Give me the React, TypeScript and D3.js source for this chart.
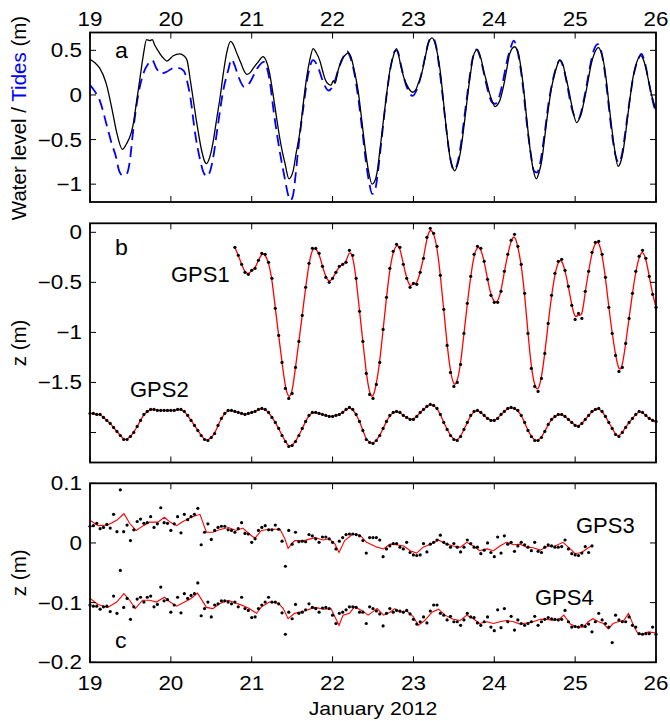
import React from 'react';
import * as d3 from 'd3';

// ---------- DATA ----------
const dayTicks = [19, 20, 21, 22, 23, 24, 25, 26];
const ticksA = [-1, -0.5, 0, 0.5];
const ticksB = [-2, -1.5, -1, -0.5, 0];
const labelsB = [-1.5, -1, -0.5, 0];
const ticksC = [-0.2, -0.1, 0, 0.1];

// Panel a: measured water level [day, m]
const waterLevel: [number, number][] = [
  [19.00,0.40],[19.06,0.36],[19.12,0.30],[19.20,0.13],[19.27,-0.15],[19.33,-0.42],[19.40,-0.61],[19.45,-0.55],[19.53,-0.35],[19.58,-0.05],
  [19.62,0.20],[19.66,0.45],[19.70,0.62],[19.74,0.61],[19.77,0.62],[19.80,0.56],[19.86,0.47],[19.91,0.41],[19.95,0.38],[20.03,0.44],
  [20.11,0.46],[20.16,0.44],[20.20,0.39],[20.24,0.17],[20.32,-0.31],[20.38,-0.62],[20.42,-0.75],[20.44,-0.77],[20.48,-0.70],[20.52,-0.54],
  [20.57,-0.25],[20.61,-0.02],[20.65,0.25],[20.69,0.47],[20.74,0.60],[20.77,0.57],[20.81,0.48],[20.87,0.35],[20.90,0.28],[20.94,0.23],
  [20.98,0.25],[21.02,0.30],[21.08,0.37],[21.14,0.43],[21.18,0.38],[21.22,0.25],[21.25,0.09],[21.29,-0.15],[21.33,-0.39],[21.37,-0.60],
  [21.41,-0.76],[21.46,-0.94],[21.51,-0.86],[21.55,-0.65],[21.60,-0.39],[21.64,-0.08],[21.68,0.20],[21.72,0.40],[21.76,0.52],[21.80,0.47],
  [21.84,0.39],[21.88,0.26],[21.91,0.17],[21.95,0.12],[21.98,0.11],[22.01,0.16],[22.03,0.13],[22.07,0.28],[22.11,0.39],[22.16,0.45],
  [22.19,0.47],[22.23,0.42],[22.26,0.31],[22.29,0.18],[22.32,0.02],[22.35,-0.20],[22.38,-0.43],[22.41,-0.65],[22.44,-0.83],[22.49,-1.00],
  [22.52,-0.97],[22.55,-0.87],[22.58,-0.66],[22.61,-0.43],[22.64,-0.20],[22.67,0.02],[22.71,0.28],[22.75,0.43],[22.79,0.52],[22.82,0.43],
  [22.85,0.30],[22.88,0.20],[22.92,0.11],[22.96,0.05],[22.99,0.03],[23.03,0.06],[23.06,0.13],[23.09,0.20],[23.12,0.31],[23.15,0.44],
  [23.18,0.57],[23.23,0.64],[23.27,0.57],[23.30,0.45],[23.33,0.28],[23.36,0.03],[23.39,-0.24],[23.42,-0.48],[23.45,-0.69],[23.48,-0.80],
  [23.51,-0.85],[23.55,-0.77],[23.58,-0.65],[23.61,-0.46],[23.64,-0.24],[23.67,-0.01],[23.70,0.20],[23.74,0.43],[23.79,0.51],[23.84,0.39],
  [23.87,0.27],[23.91,0.13],[23.94,0.02],[23.97,-0.06],[24.01,-0.13],[24.04,-0.11],[24.07,-0.06],[24.10,0.04],[24.13,0.17],[24.16,0.32],
  [24.19,0.46],[24.25,0.54],[24.30,0.46],[24.33,0.30],[24.36,0.09],[24.39,-0.17],[24.42,-0.43],[24.45,-0.66],[24.48,-0.83],[24.52,-0.94],
  [24.55,-0.88],[24.59,-0.72],[24.62,-0.50],[24.65,-0.28],[24.68,-0.08],[24.71,0.09],[24.74,0.21],[24.77,0.31],[24.81,0.39],[24.85,0.34],
  [24.88,0.22],[24.92,0.06],[24.95,-0.08],[24.97,-0.17],[25.02,-0.31],[25.05,-0.27],[25.08,-0.20],[25.11,-0.07],[25.14,0.06],[25.17,0.21],
  [25.20,0.35],[25.24,0.47],[25.29,0.53],[25.32,0.48],[25.36,0.33],[25.39,0.13],[25.42,-0.12],[25.45,-0.35],[25.49,-0.62],[25.53,-0.80],
  [25.56,-0.76],[25.59,-0.65],[25.62,-0.46],[25.65,-0.24],[25.68,-0.03],[25.71,0.17],[25.75,0.33],[25.81,0.44],[25.85,0.38],[25.88,0.28],
  [25.91,0.15],[25.94,0.02],[25.97,-0.08],[26.00,-0.17],
];

// Panel a: predicted tides [day, m]
const tides: [number, number][] = [
  [19.00,0.11],[19.06,0.04],[19.12,-0.06],[19.21,-0.35],[19.27,-0.55],[19.32,-0.69],[19.36,-0.85],[19.40,-0.90],[19.45,-0.89],[19.49,-0.76],
  [19.53,-0.43],[19.57,-0.15],[19.60,0.02],[19.66,0.24],[19.72,0.35],[19.77,0.39],[19.82,0.30],[19.88,0.24],[19.95,0.26],[20.03,0.30],
  [20.10,0.30],[20.16,0.27],[20.21,0.12],[20.24,-0.02],[20.30,-0.43],[20.36,-0.72],[20.41,-0.88],[20.45,-0.91],[20.49,-0.84],[20.52,-0.72],
  [20.58,-0.35],[20.65,0.06],[20.71,0.28],[20.75,0.40],[20.79,0.33],[20.83,0.22],[20.91,0.09],[20.97,0.13],[21.07,0.30],[21.15,0.37],
  [21.19,0.30],[21.22,0.17],[21.28,-0.24],[21.35,-0.65],[21.41,-0.94],[21.45,-1.12],[21.48,-1.18],[21.51,-1.13],[21.54,-0.92],[21.57,-0.65],
  [21.64,-0.13],[21.70,0.24],[21.76,0.39],[21.82,0.31],[21.89,0.13],[21.95,0.05],[22.01,0.11],[22.07,0.28],[22.13,0.42],[22.18,0.49],
  [22.22,0.42],[22.27,0.24],[22.32,-0.05],[22.37,-0.42],[22.41,-0.73],[22.45,-0.97],[22.49,-1.11],[22.53,-1.05],[22.56,-0.87],[22.60,-0.55],
  [22.64,-0.22],[22.68,0.08],[22.72,0.32],[22.77,0.49],[22.80,0.50],[22.84,0.36],[22.88,0.20],[22.93,0.06],[22.99,-0.01],[23.05,0.08],
  [23.10,0.24],[23.15,0.45],[23.20,0.62],[23.24,0.64],[23.28,0.55],[23.32,0.30],[23.36,0.00],[23.40,-0.33],[23.45,-0.68],[23.50,-0.84],
  [23.54,-0.78],[23.58,-0.60],[23.63,-0.25],[23.68,0.10],[23.73,0.40],[23.78,0.51],[23.82,0.44],[23.87,0.25],[23.92,0.05],[23.97,-0.08],
  [24.01,-0.10],[24.05,-0.05],[24.10,0.12],[24.15,0.35],[24.20,0.52],[24.24,0.61],[24.28,0.52],[24.32,0.33],[24.36,0.05],[24.40,-0.30],
  [24.45,-0.65],[24.49,-0.85],[24.53,-0.87],[24.57,-0.75],[24.62,-0.45],[24.67,-0.10],[24.72,0.15],[24.77,0.32],[24.81,0.39],[24.85,0.32],
  [24.90,0.12],[24.95,-0.12],[25.00,-0.25],[25.04,-0.27],[25.08,-0.17],[25.13,0.05],[25.18,0.30],[25.23,0.50],[25.28,0.57],[25.32,0.50],
  [25.36,0.30],[25.40,0.00],[25.45,-0.40],[25.50,-0.68],[25.54,-0.76],[25.58,-0.66],[25.63,-0.35],[25.68,-0.02],[25.73,0.25],[25.78,0.40],
  [25.82,0.46],[25.86,0.37],[25.91,0.15],[25.96,-0.07],[26.00,-0.20],
];

// Panel b: hourly GPS heights (m)
const gps1Start = 20 + 19 / 24;
const gps1: number[] = [
  -0.15,-0.23,-0.32,-0.40,-0.42,-0.38,-0.36,-0.28,-0.21,-0.22,
  -0.30,-0.46,-0.76,-1.03,-1.30,-1.56,-1.66,-1.61,-1.35,-1.09,
  -0.83,-0.55,-0.31,-0.16,-0.16,-0.21,-0.34,-0.45,-0.50,-0.46,
  -0.40,-0.34,-0.32,-0.30,-0.18,-0.23,-0.46,-0.79,-1.09,-1.41,
  -1.62,-1.66,-1.52,-1.30,-0.97,-0.65,-0.36,-0.19,-0.12,-0.15,
  -0.32,-0.46,-0.55,-0.51,-0.52,-0.40,-0.26,-0.05,0.04,-0.01,
  -0.14,-0.43,-0.77,-1.13,-1.40,-1.54,-1.50,-1.32,-1.01,-0.71,
  -0.44,-0.22,-0.14,-0.16,-0.29,-0.47,-0.63,-0.70,-0.70,-0.59,
  -0.39,-0.22,-0.08,-0.02,-0.14,-0.32,-0.61,-1.01,-1.36,-1.54,
  -1.59,-1.46,-1.21,-0.91,-0.63,-0.41,-0.29,-0.27,-0.38,-0.54,
  -0.73,-0.87,-0.81,-0.86,-0.59,-0.39,-0.20,-0.10,-0.09,-0.22,
  -0.45,-0.75,-1.01,-1.23,-1.39,-1.35,-1.11,-0.86,-0.61,-0.39,
  -0.24,-0.18,-0.26,-0.44,-0.62,-0.75,
];
const gps2Start = 19;
const gps2: number[] = [
  -1.81,-1.81,-1.82,-1.82,-1.85,-1.88,-1.91,-1.95,-1.99,-2.03,-2.07,-2.07,-2.04,-2.00,-1.94,-1.88,-1.82,-1.79,-1.77,-1.77,-1.78,-1.78,-1.78,-1.78,
  -1.78,-1.78,-1.77,-1.77,-1.79,-1.83,-1.88,-1.93,-1.98,-2.03,-2.07,-2.08,-2.05,-2.01,-1.93,-1.86,-1.81,-1.78,-1.78,-1.79,-1.80,-1.81,-1.82,-1.81,
  -1.80,-1.79,-1.77,-1.76,-1.77,-1.80,-1.85,-1.90,-1.96,-2.03,-2.09,-2.14,-2.13,-2.09,-2.03,-1.96,-1.89,-1.83,-1.80,-1.80,-1.81,-1.82,-1.83,-1.84,
  -1.84,-1.83,-1.82,-1.80,-1.77,-1.75,-1.77,-1.82,-1.89,-1.98,-2.07,-2.10,-2.11,-2.08,-2.03,-1.96,-1.89,-1.83,-1.80,-1.79,-1.80,-1.83,-1.85,-1.87,
  -1.87,-1.84,-1.80,-1.77,-1.74,-1.72,-1.73,-1.76,-1.82,-1.90,-1.97,-2.03,-2.07,-2.08,-2.04,-1.97,-1.90,-1.83,-1.79,-1.78,-1.80,-1.83,-1.86,-1.88,
  -1.88,-1.86,-1.82,-1.79,-1.76,-1.75,-1.76,-1.78,-1.83,-1.90,-1.98,-2.04,-2.08,-2.08,-2.05,-1.99,-1.92,-1.87,-1.84,-1.82,-1.82,-1.84,-1.87,-1.90,
  -1.93,-1.94,-1.91,-1.87,-1.83,-1.79,-1.77,-1.76,-1.79,-1.84,-1.90,-1.96,-2.02,-2.04,-2.00,-1.95,-1.90,-1.86,-1.82,-1.79,-1.80,-1.83,-1.86,-1.88,
  -1.89,
];

// Panel c: hourly GPS heights (m)
const gps3Start = 19;
const gps3: number[] = [
  0.028,0.029,0.033,0.024,0.026,0.031,0.025,0.048,0.019,0.089,
  0.019,0.030,0.004,0.022,0.036,0.040,0.033,0.034,0.044,0.026,
  0.032,0.059,0.034,0.033,0.021,0.032,0.044,0.017,0.048,0.039,
  0.044,0.048,0.058,-0.003,0.018,0.032,0.006,0.021,0.026,0.028,
  0.028,0.022,0.021,0.018,0.024,0.034,0.016,0.015,0.001,0.007,
  0.021,0.026,0.029,0.022,0.022,0.030,0.023,0.003,-0.039,0.021,
  -0.002,0.018,0.002,0.003,0.002,0.014,0.012,0.007,0.001,0.010,
  0.010,0.007,0.001,-0.010,0.003,0.009,0.014,0.015,0.015,0.014,
  0.012,0.004,-0.017,0.009,0.009,0.009,0.005,-0.023,-0.010,-0.005,
  -0.001,-0.001,-0.007,-0.010,0.001,-0.016,-0.020,-0.021,-0.020,-0.001,
  -0.015,-0.002,0.001,0.005,0.013,0.001,-0.002,-0.007,-0.001,-0.007,
  -0.015,-0.007,0.005,-0.001,-0.007,-0.007,-0.018,-0.012,0.000,-0.016,
  -0.023,0.010,-0.017,0.012,-0.002,0.001,-0.014,-0.005,0.001,-0.003,
  -0.007,-0.013,0.001,-0.014,-0.016,-0.007,-0.003,-0.005,-0.007,-0.007,
  -0.006,0.005,-0.010,-0.018,-0.020,-0.021,-0.017,-0.006,-0.016,-0.005,
];
const gps4Start = 19;
const gps4: number[] = [
  -0.104,-0.106,-0.106,-0.111,-0.107,-0.106,-0.115,-0.089,-0.118,-0.046,
  -0.108,-0.093,-0.128,-0.107,-0.094,-0.091,-0.099,-0.091,-0.089,-0.107,
  -0.103,-0.074,-0.097,-0.095,-0.116,-0.104,-0.091,-0.117,-0.085,-0.093,
  -0.088,-0.085,-0.067,-0.122,-0.110,-0.099,-0.124,-0.104,-0.102,-0.097,
  -0.097,-0.099,-0.102,-0.099,-0.107,-0.091,-0.110,-0.113,-0.125,-0.124,
  -0.110,-0.104,-0.099,-0.091,-0.099,-0.099,-0.102,-0.117,-0.153,-0.116,
  -0.127,-0.103,-0.118,-0.116,-0.112,-0.102,-0.108,-0.110,-0.116,-0.109,
  -0.108,-0.110,-0.121,-0.135,-0.118,-0.116,-0.112,-0.107,-0.107,-0.108,
  -0.116,-0.116,-0.135,-0.107,-0.110,-0.114,-0.119,-0.139,-0.118,-0.110,
  -0.116,-0.113,-0.114,-0.116,-0.113,-0.119,-0.128,-0.136,-0.132,-0.124,
  -0.134,-0.114,-0.104,-0.104,-0.118,-0.121,-0.129,-0.123,-0.132,-0.132,
  -0.138,-0.129,-0.118,-0.124,-0.125,-0.134,-0.138,-0.132,-0.124,-0.141,
  -0.147,-0.112,-0.142,-0.110,-0.132,-0.123,-0.146,-0.129,-0.135,-0.138,
  -0.135,-0.132,-0.123,-0.138,-0.132,-0.128,-0.125,-0.127,-0.128,-0.129,
  -0.128,-0.113,-0.132,-0.141,-0.140,-0.141,-0.138,-0.140,-0.136,-0.149,
  -0.132,-0.118,-0.129,-0.135,-0.141,-0.167,-0.121,-0.129,-0.132,-0.132,
  -0.124,-0.138,-0.141,-0.152,-0.153,-0.152,-0.152,-0.141,-0.153,
];

// Panel c: smoothed curves [day, m]
const gps3Smooth: [number, number][] = [
  [19.00,0.038],[19.10,0.029],[19.22,0.030],[19.33,0.038],[19.42,0.049],[19.49,0.033],[19.57,0.021],[19.66,0.029],[19.74,0.035],[19.84,0.035],
  [19.92,0.043],[19.99,0.035],[20.07,0.029],[20.15,0.036],[20.25,0.043],[20.36,0.048],[20.44,0.018],[20.52,0.018],[20.60,0.022],[20.71,0.026],
  [20.81,0.021],[20.89,0.025],[20.97,0.015],[21.04,0.008],[21.12,0.021],[21.22,0.023],[21.35,0.023],[21.41,0.007],[21.45,-0.009],[21.53,0.004],
  [21.65,0.004],[21.78,0.009],[21.88,0.005],[21.96,0.007],[22.03,-0.002],[22.08,-0.016],[22.15,0.004],[22.25,0.015],[22.34,0.013],[22.42,0.001],
  [22.55,-0.007],[22.63,-0.010],[22.71,-0.002],[22.79,-0.003],[22.88,-0.005],[22.96,-0.013],[23.04,-0.017],[23.12,-0.007],[23.21,-0.002],[23.31,0.005],
  [23.39,-0.001],[23.49,-0.005],[23.58,-0.007],[23.66,0.001],[23.74,-0.005],[23.82,-0.013],[23.91,-0.010],[23.99,-0.013],[24.07,-0.005],[24.15,0.001],
  [24.24,-0.003],[24.32,-0.002],[24.40,-0.007],[24.48,-0.008],[24.57,-0.012],[24.65,-0.006],[24.75,-0.005],[24.85,0.001],[24.94,-0.010],[25.00,-0.018],
  [25.08,-0.016],[25.14,-0.010],[25.20,-0.005],
];
const gps4Smooth: [number, number][] = [
  [19.00,-0.093],[19.10,-0.103],[19.22,-0.108],[19.33,-0.099],[19.42,-0.085],[19.49,-0.096],[19.56,-0.110],[19.65,-0.096],[19.74,-0.096],[19.82,-0.099],
  [19.92,-0.091],[19.99,-0.099],[20.07,-0.106],[20.17,-0.099],[20.25,-0.093],[20.33,-0.084],[20.44,-0.108],[20.52,-0.110],[20.60,-0.102],[20.71,-0.096],
  [20.81,-0.101],[20.89,-0.105],[20.97,-0.110],[21.06,-0.118],[21.12,-0.107],[21.22,-0.099],[21.33,-0.101],[21.39,-0.110],[21.45,-0.127],[21.53,-0.118],
  [21.65,-0.114],[21.78,-0.108],[21.90,-0.111],[21.98,-0.110],[22.03,-0.124],[22.08,-0.138],[22.13,-0.121],[22.21,-0.118],[22.27,-0.107],[22.36,-0.113],
  [22.44,-0.121],[22.52,-0.113],[22.55,-0.110],[22.63,-0.121],[22.71,-0.116],[22.77,-0.110],[22.83,-0.116],[22.92,-0.114],[23.00,-0.124],[23.06,-0.138],
  [23.14,-0.130],[23.23,-0.116],[23.31,-0.111],[23.39,-0.121],[23.49,-0.128],[23.58,-0.130],[23.66,-0.121],[23.74,-0.127],[23.82,-0.135],[23.91,-0.132],
  [23.99,-0.135],[24.07,-0.132],[24.15,-0.130],[24.24,-0.132],[24.32,-0.136],[24.40,-0.134],[24.48,-0.132],[24.57,-0.128],[24.65,-0.128],[24.73,-0.130],
  [24.81,-0.127],[24.86,-0.121],[24.94,-0.136],[25.02,-0.141],[25.10,-0.141],[25.16,-0.132],[25.22,-0.127],[25.29,-0.132],[25.35,-0.135],[25.41,-0.144],
  [25.47,-0.135],[25.53,-0.132],[25.60,-0.130],[25.66,-0.118],[25.72,-0.138],[25.78,-0.153],[25.84,-0.152],[25.91,-0.149],[26.00,-0.151],
];

// ---------- LAYOUT ----------
const W = 670, H = 721;
const XL = 90, XR = 656;
const FONT = '"Liberation Sans", Arial, Helvetica, sans-serif';
const SX = 1.15;
const TICK = 6;

const hourly = (start: number, vals: number[]): [number, number][] =>
  vals.map((v, i) => [start + i / 24, v]);

function HText(props: { x: number; y: number; anchor?: string; size?: number; sx?: number; fill?: string; children: any }) {
  const { x, y, anchor = 'start', size = 19.5, sx = SX, fill = '#000', children } = props;
  return (
    <text transform={`translate(${x},${y}) scale(${sx},1)`} textAnchor={anchor} fontSize={size}
      fontFamily={FONT} fill={fill}>{children}</text>
  );
}

function Frame(props: { x: d3.ScaleLinear<number, number>; y: d3.ScaleLinear<number, number>; yTicks: number[]; yLabels: number[]; top: number; bottom: number; topLabels?: boolean; bottomLabels?: boolean }) {
  const { x, y, yTicks, yLabels, top, bottom, topLabels, bottomLabels } = props;
  const fmt = d3.format('~g');
  return (
    <g>
      {dayTicks.map(d => (
        <g key={'xt' + d}>
          <line x1={x(d)} x2={x(d)} y1={bottom} y2={bottom - TICK} stroke="#000" strokeWidth={1} />
          <line x1={x(d)} x2={x(d)} y1={top} y2={top + TICK} stroke="#000" strokeWidth={1} />
          {topLabels && <HText x={x(d)} y={25.5} anchor="middle">{String(d)}</HText>}
          {bottomLabels && <HText x={x(d)} y={690} anchor="middle">{String(d)}</HText>}
        </g>
      ))}
      {yTicks.map(t => (
        <g key={'yt' + t}>
          <line x1={XL} x2={XL + TICK} y1={y(t)} y2={y(t)} stroke="#000" strokeWidth={1} />
          <line x1={XR} x2={XR - TICK} y1={y(t)} y2={y(t)} stroke="#000" strokeWidth={1} />
          {yLabels.includes(t) && (
            <HText x={82} y={y(t) + 7} anchor="end">{fmt(t)}</HText>
          )}
        </g>
      ))}
      <rect x={XL} y={top} width={XR - XL} height={bottom - top} fill="none" stroke="#000" strokeWidth={1.8} />
    </g>
  );
}

export default function App() {
  const x = d3.scaleLinear().domain([19, 26]).range([XL, XR]);
  const ya = d3.scaleLinear().domain([-1.2, 0.7]).range([202, 32.5]);
  const yb = d3.scaleLinear().domain([-2.3, 0.09]).range([462.5, 223.3]);
  const yc = d3.scaleLinear().domain([-0.2, 0.1]).range([662.3, 483.3]);

  const lineA = d3.line<[number, number]>().x(d => x(d[0])).y(d => ya(d[1])).curve(d3.curveMonotoneX);
  const lineB = d3.line<[number, number]>().x(d => x(d[0])).y(d => yb(d[1])).curve(d3.curveBasis);
  const lineC = d3.line<[number, number]>().x(d => x(d[0])).y(d => yc(d[1]));

  const g1 = hourly(gps1Start, gps1);
  const g2 = hourly(gps2Start, gps2);
  const g3 = hourly(gps3Start, gps3);
  const g4 = hourly(gps4Start, gps4);

  return (
    <svg width={W} height={H} viewBox={`0 0 ${W} ${H}`} style={{ position: 'absolute', left: 0, top: 0, background: '#fff' }}>
      <rect width={W} height={H} fill="#fff" />
      {/* Panel a */}
      <path d={lineA(tides) || ''} fill="none" stroke="#0000ff" strokeWidth={1.8} strokeDasharray="11,6" />
      <path d={lineA(waterLevel) || ''} fill="none" stroke="#000" strokeWidth={1.3} />
      <Frame x={x} y={ya} yTicks={ticksA} yLabels={ticksA} top={32.5} bottom={202} topLabels />
      <HText x={115} y={58} size={22} sx={1.05}>a</HText>
      <text transform="translate(26,118) rotate(-90)" textAnchor="middle" fontSize={20.5} fontFamily={FONT}>
        <tspan fill="#000">Water level / </tspan><tspan fill="#0000ff">Tides</tspan><tspan fill="#000"> (m)</tspan>
      </text>

      {/* Panel b */}
      <path d={lineB(g1) || ''} fill="none" stroke="#ff0000" strokeWidth={1.3} />
      <path d={lineB(g2) || ''} fill="none" stroke="#ff0000" strokeWidth={1.3} />
      {g1.concat(g2).map((d, i) => (
        <circle key={'b' + i} cx={x(d[0])} cy={yb(d[1])} r={1.6} fill="#000" />
      ))}
      <Frame x={x} y={yb} yTicks={ticksB} yLabels={labelsB} top={223.3} bottom={462.5} />
      <HText x={115} y={255} size={22} sx={1.05}>b</HText>
      <HText x={171} y={281.5} size={22} sx={1}>GPS1</HText>
      <HText x={130} y={396.5} size={22} sx={1}>GPS2</HText>
      <text transform={`translate(26,${(223.3 + 462.5) / 2}) rotate(-90)`} textAnchor="middle" fontSize={20.5} fontFamily={FONT}>z (m)</text>

      {/* Panel c */}
      <path d={lineC(gps3Smooth) || ''} fill="none" stroke="#ff0000" strokeWidth={1.1} />
      <path d={lineC(gps4Smooth) || ''} fill="none" stroke="#ff0000" strokeWidth={1.1} />
      {g3.concat(g4).map((d, i) => (
        <circle key={'c' + i} cx={x(d[0])} cy={yc(d[1])} r={1.6} fill="#000" />
      ))}
      <Frame x={x} y={yc} yTicks={ticksC} yLabels={ticksC} top={483.3} bottom={662.3} bottomLabels />
      <HText x={115} y={648} size={22} sx={1.05}>c</HText>
      <HText x={576} y={533} size={22} sx={1}>GPS3</HText>
      <HText x={535} y={605} size={22} sx={1}>GPS4</HText>
      <text transform={`translate(26,${(483.3 + 662.3) / 2}) rotate(-90)`} textAnchor="middle" fontSize={20.5} fontFamily={FONT}>z (m)</text>
      <HText x={(XL + XR) / 2} y={715} anchor="middle" size={18} sx={1.18}>January 2012</HText>
    </svg>
  );
}
